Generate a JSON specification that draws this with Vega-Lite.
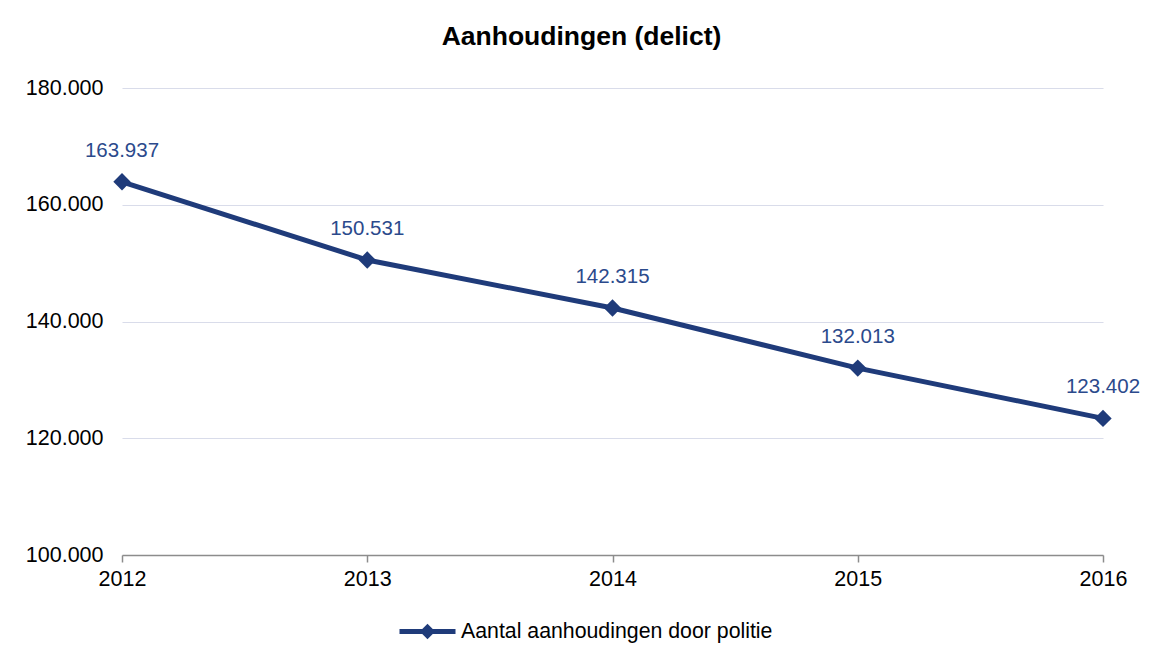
{
  "$schema": "https://vega.github.io/schema/vega-lite/v6.json",
  "autosize": "none",
  "width": 981,
  "height": 467,
  "padding": {"left": 122, "top": 88, "right": 52, "bottom": 105},
  "background": "white",
  "config": {
    "font": "Liberation Sans",
    "view": {"stroke": null},
    "locale": {"number": {"decimal": ",", "thousands": ".", "grouping": [3], "currency": ["€", ""]}}
  },
  "title": {
    "text": "Aanhoudingen (delict)",
    "font": "Liberation Sans",
    "fontSize": 26.5,
    "fontWeight": "bold",
    "color": "black",
    "anchor": "middle",
    "dx": -31,
    "offset": 27
  },
  "data": {
    "values": [
      {"jaar": "2012", "aantal": 163937, "reeks": "Aantal aanhoudingen door politie"},
      {"jaar": "2013", "aantal": 150531, "reeks": "Aantal aanhoudingen door politie"},
      {"jaar": "2014", "aantal": 142315, "reeks": "Aantal aanhoudingen door politie"},
      {"jaar": "2015", "aantal": 132013, "reeks": "Aantal aanhoudingen door politie"},
      {"jaar": "2016", "aantal": 123402, "reeks": "Aantal aanhoudingen door politie"}
    ]
  },
  "encoding": {
    "x": {
      "field": "jaar", "type": "ordinal",
      "scale": {"type": "point", "padding": 0},
      "axis": {
        "title": null, "labelAngle": 0, "labelFontSize": 21.5, "labelColor": "black",
        "domainColor": "#8c8c8c", "domainWidth": 1.5, "tickColor": "#8c8c8c", "tickWidth": 1.5,
        "tickSize": 7, "labelPadding": 6, "grid": false
      }
    },
    "y": {
      "field": "aantal", "type": "quantitative",
      "scale": {"domain": [100000, 180000], "zero": false, "nice": false},
      "axis": {
        "title": null, "values": [100000, 120000, 140000, 160000, 180000],
        "format": ",.0f", "labelFontSize": 21.5, "labelColor": "black",
        "domain": false, "ticks": false, "labelPadding": 19,
        "grid": true, "gridColor": "#d9dcea", "gridWidth": 1.2
      }
    }
  },
  "layer": [
    {
      "mark": {"type": "line", "strokeWidth": 5},
      "encoding": {
        "color": {
          "field": "reeks", "type": "nominal",
          "scale": {"range": ["#1f3b7a"]},
          "legend": {
            "title": null, "orient": "none", "legendX": 275, "legendY": 513,
            "labelFontSize": 21.3, "labelColor": "black", "labelFont": "Liberation Sans",
            "labelLimit": 600,
            "symbolType": "M-1,0L1,0M-0.15,0L0,-0.15L0.15,0L0,0.15Z",
            "symbolSize": 3136, "symbolStrokeWidth": 5,
            "symbolFillColor": "#1f3b7a", "symbolStrokeColor": "#1f3b7a",
            "labelOffset": 3
          }
        }
      }
    },
    {
      "mark": {"type": "point", "shape": "diamond", "size": 300, "filled": true, "opacity": 1, "color": "#1f3b7a"}
    },
    {
      "mark": {"type": "text", "dy": -25, "baseline": "alphabetic", "fontSize": 20.5, "color": "#2b4a8c"},
      "encoding": {"text": {"field": "aantal", "type": "quantitative", "format": ",.0f"}}
    }
  ]
}
